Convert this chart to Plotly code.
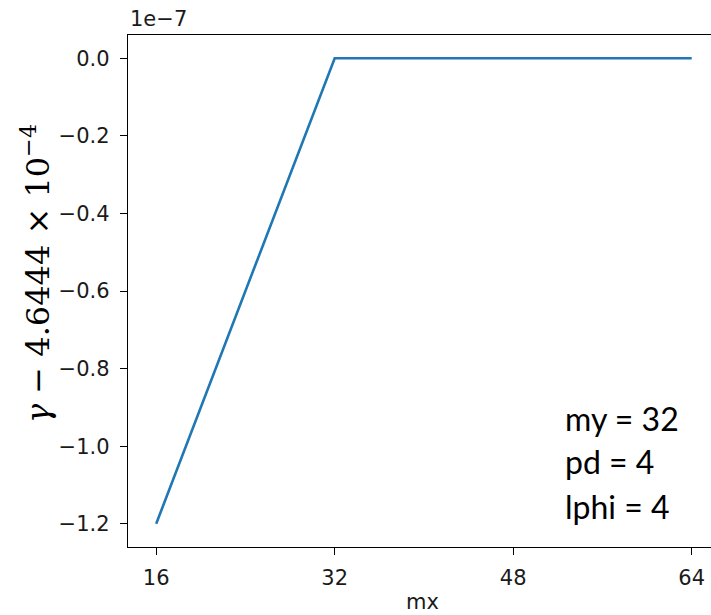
import plotly.graph_objects as go

# Convergence of gamma with grid resolution mx
mx = [16, 32, 48, 64]
gamma_shift = [-1.2e-7, 0.0, 0.0, 0.0]   # gamma - 4.6444e-4
scale = 1e-7

x_ticks = [16, 32, 48, 64]
y_ticks = [0.0, -0.2, -0.4, -0.6, -0.8, -1.0, -1.2]
y_ticktext = ["0.0", "−0.2", "−0.4", "−0.6", "−0.8", "−1.0", "−1.2"]
params = ["my = 32", "pd = 4", "lphi = 4"]

W, H = 711, 615
ML, MR, MT, MB = 128, 0, 35, 68
pw, ph = W - ML - MR, H - MT - MB

def px_x(x):
    return (x - ML) / pw

def px_y(y):
    return (H - MB - y) / ph

fig = go.Figure()
fig.add_trace(go.Scatter(
    x=mx, y=[v / scale for v in gamma_shift], mode="lines",
    line=dict(color="#1f77b4", width=2.6), showlegend=False,
))

tickfont = dict(family="DejaVu Sans", size=21, color="#1a1a1a")
axis_common = dict(
    showgrid=False, zeroline=False, showline=True, linecolor="black",
    linewidth=1.4, ticks="outside", ticklen=7, tickwidth=1.3,
    tickcolor="black", tickfont=tickfont,
)

fig.update_layout(
    width=W, height=H,
    margin=dict(l=ML, r=MR, t=MT, b=MB),
    paper_bgcolor="white", plot_bgcolor="white",
    xaxis=dict(range=[13.472, 65.73], tickvals=x_ticks,
               ticktext=[str(t) for t in x_ticks], mirror=True,
               ticklabelstandoff=5, **axis_common),
    yaxis=dict(range=[-1.26, 0.06], tickvals=y_ticks, ticktext=y_ticktext,
               mirror=False, ticklabelstandoff=6, **axis_common),
)

annotations = [
    dict(text="1e−7", x=px_x(128), y=px_y(33), xanchor="left", yanchor="bottom",
         font=tickfont),
    dict(text="mx", x=px_x(422.5), y=px_y(602), xanchor="center", yanchor="middle",
         font=tickfont),
    dict(text="<i>γ</i> − 4.6444 × 10<sup>−4</sup>", x=px_x(36), y=px_y(274),
         xanchor="center", yanchor="middle", textangle=-90,
         font=dict(family="DejaVu Serif", size=32, color="black")),
]
baselines = [430, 473, 518]
for label, yb in zip(params, baselines):
    annotations.append(dict(text=label, x=px_x(563), y=px_y(yb - 12),
                            xanchor="left", yanchor="middle",
                            font=dict(family="Lato", size=32, color="black")))
for a in annotations:
    a.update(xref="paper", yref="paper", showarrow=False)
fig.update_layout(annotations=annotations)

fig.write_html("out.html")
